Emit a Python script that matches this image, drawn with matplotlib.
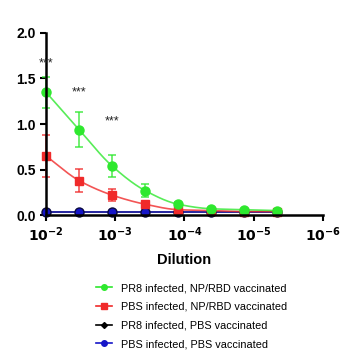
import numpy as np
import matplotlib
matplotlib.use('Agg')
import matplotlib.pyplot as plt

plt.rcParams['font.family'] = ['Liberation Sans', 'DejaVu Sans']

# dilution series 1/100, 1/300, ... (3-fold)
dilution = [1/100, 1/300, 1/900, 1/2700, 1/8100, 1/24300, 1/72900, 1/218700]

green_y = [1.35, 0.94, 0.54, 0.27, 0.12, 0.07, 0.06, 0.05]
green_err = [0.17, 0.19, 0.12, 0.07, 0.02, 0.01, 0.01, 0.01]
red_y = [0.65, 0.38, 0.22, 0.12, 0.06, 0.05, 0.04, 0.04]
red_err = [0.23, 0.13, 0.07, 0.03, 0.01, 0.01, 0.01, 0.01]
black_y = [0.04, 0.04, 0.04, 0.04, 0.04, 0.04, 0.04, 0.04]
blue_y = [0.04, 0.04, 0.04, 0.04, 0.04, 0.04, 0.04, 0.04]

star_x = [1/100, 1/300, 1/900]
star_y = [1.66, 1.35, 1.03]

labels = ['PR8 infected, NP/RBD vaccinated', 'PBS infected, NP/RBD vaccinated',
          'PR8 infected, PBS vaccinated', 'PBS infected, PBS vaccinated']


def smooth(x, y, n=200):
    # monotone cubic (Fritsch-Carlson) on -log10(x), gives the fitted-looking curve
    t = -np.log10(x)
    y = np.asarray(y, float)
    h = np.diff(t)
    d = np.diff(y) / h
    m = np.zeros_like(y)
    m[0], m[-1] = d[0], d[-1]
    for i in range(1, len(y) - 1):
        if d[i - 1] * d[i] > 0:
            m[i] = 2 / (1 / d[i - 1] + 1 / d[i])
    tt = np.linspace(t[0], t[-1], n)
    out = np.zeros_like(tt)
    for j, v in enumerate(tt):
        i = min(max(np.searchsorted(t, v, side='right') - 1, 0), len(t) - 2)
        s = (v - t[i]) / h[i]
        h00 = 2*s**3 - 3*s**2 + 1
        h10 = s**3 - 2*s**2 + s
        h01 = -2*s**3 + 3*s**2
        h11 = s**3 - s**2
        out[j] = h00*y[i] + h10*h[i]*m[i] + h01*y[i+1] + h11*h[i]*m[i+1]
    return 10**(-tt), out


fig = plt.figure(figsize=(3.51, 3.58), dpi=100)
ax = fig.add_axes([0.131, 0.399, 0.789, 0.509])

series = [
    (black_y, None, 'black', 'D', 4, labels[2]),
    (blue_y, None, '#1515c8', 'o', 6.5, labels[3]),
    (red_y, red_err, '#f02a2a', 's', 6, labels[1]),
    (green_y, green_err, '#2ee82e', 'o', 6.5, labels[0]),
]

handles = {}
for ys, err, col, mk, ms, lab in series:
    xs, ss = smooth(dilution, ys)
    ax.plot(xs, ss, color=col, lw=1.2, alpha=0.8, clip_on=False)
    if err is not None:
        ax.errorbar(dilution, ys, yerr=err, fmt='none', ecolor=col, elinewidth=1.2,
                    capsize=3, capthick=1.2, alpha=0.8, clip_on=False)
    edge = '#0a0a40' if col == '#1515c8' else col
    ax.plot(dilution, ys, linestyle='none', marker=mk, color=col, markeredgecolor=edge,
            markersize=ms, clip_on=False)
    h, = ax.plot([], [], color=col, marker=mk, markersize=4 if mk != 'D' else 3, lw=1.2)
    handles[lab] = h

for sx, sy in zip(star_x, star_y):
    ax.text(sx, sy, '***', ha='center', va='center', fontsize=9, color='#222222')

ax.set_xscale('log')
ax.set_xlim(1e-2, 1e-6)
ax.set_ylim(0, 2.0)
ax.set_yticks([0.0, 0.5, 1.0, 1.5, 2.0])
ax.set_yticklabels(['0.0', '0.5', '1.0', '1.5', '2.0'])
ax.set_xticks([1e-2, 1e-3, 1e-4, 1e-5, 1e-6])
ax.set_xticklabels([r'$\mathbf{10^{-2}}$', r'$\mathbf{10^{-3}}$', r'$\mathbf{10^{-4}}$',
                    r'$\mathbf{10^{-5}}$', r'$\mathbf{10^{-6}}$'])
ax.minorticks_off()
for lbl in ax.get_yticklabels():
    lbl.set_fontweight('bold')
ax.tick_params(axis='both', labelsize=10, width=1.5, length=4, direction='out')
ax.spines['top'].set_visible(False)
ax.spines['right'].set_visible(False)
ax.spines['left'].set_linewidth(1.8)
ax.spines['bottom'].set_linewidth(1.8)
ax.set_xlabel('Dilution', fontsize=10.5, fontweight='bold', labelpad=6)

fig.legend([handles[l] for l in labels], labels, loc='center', bbox_to_anchor=(0.546, 0.117),
           frameon=False, fontsize=7.8, handlelength=1.5, handletextpad=0.8, labelspacing=0.8)

fig.savefig('out.png', dpi=100)
